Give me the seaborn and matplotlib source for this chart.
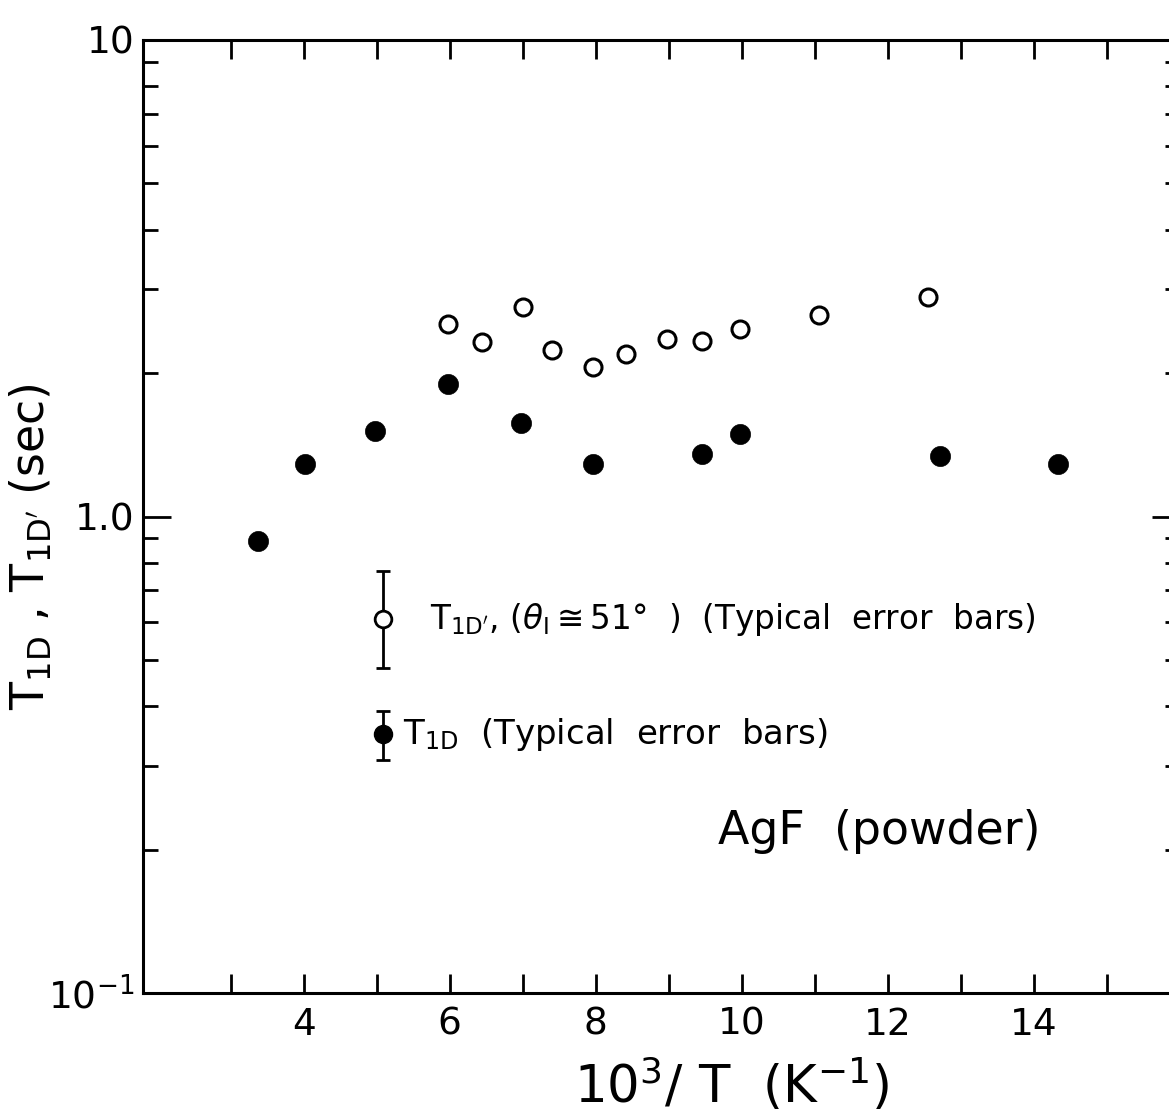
import numpy as np
import pandas as pd
import matplotlib
matplotlib.use("Agg")
import matplotlib.pyplot as plt
import matplotlib.ticker as mticker
import seaborn as sns

# --- data ---
inv_t_filled = [3.38, 4.02, 4.98, 5.98, 6.97, 7.96, 9.46, 9.98, 12.71, 14.33]
t1d = [0.89, 1.29, 1.51, 1.90, 1.57, 1.29, 1.35, 1.49, 1.34, 1.29]

inv_t_open = [5.98, 6.44, 7.00, 7.40, 7.96, 8.41, 8.98, 9.46, 9.98, 11.06, 12.55]
t1d_prime = [2.53, 2.32, 2.75, 2.24, 2.06, 2.19, 2.36, 2.33, 2.48, 2.65, 2.89]

# typical error bars drawn in the key
key_x = [5.09, 5.09]
key_y = [0.608, 0.349]
key_lo = [0.482, 0.309]
key_hi = [0.767, 0.390]

ytick_vals = [0.1, 1.0, 10]
ytick_text = [r"$10^{-1}$", "1.0", "10"]
xtick_vals = [4, 6, 8, 10, 12, 14]

df_filled = pd.DataFrame({"x": inv_t_filled, "y": t1d})
df_open = pd.DataFrame({"x": inv_t_open, "y": t1d_prime})

# --- style ---
sns.set_style("ticks")
plt.rcParams["font.family"] = ["DejaVu Sans"]
plt.rcParams["mathtext.fontset"] = "dejavusans"
plt.rcParams["text.color"] = "black"
plt.rcParams["axes.labelcolor"] = "black"
plt.rcParams["xtick.color"] = "black"
plt.rcParams["ytick.color"] = "black"

fig = plt.figure(figsize=(11.69, 11.14), dpi=100)
ax = fig.add_axes([143 / 1169, 121 / 1114, (1180 - 143) / 1169, (993 - 40) / 1114])

sns.scatterplot(data=df_filled, x="x", y="y", ax=ax, s=210, color="black",
                edgecolor="black", linewidth=0.5, zorder=3)
sns.scatterplot(data=df_open, x="x", y="y", ax=ax, s=150, color="white",
                edgecolor="black", linewidth=2.2, zorder=3)

# key markers with typical error bars
ax.errorbar(key_x[:1], key_y[:1],
            yerr=[[key_y[0] - key_lo[0]], [key_hi[0] - key_y[0]]], fmt="o",
            ms=12, mfc="white", mec="black", mew=2, ecolor="black",
            elinewidth=2, capsize=5, capthick=2, zorder=3)
ax.errorbar(key_x[1:], key_y[1:],
            yerr=[[key_y[1] - key_lo[1]], [key_hi[1] - key_y[1]]], fmt="o",
            ms=13, mfc="black", mec="black", ecolor="black",
            elinewidth=2, capsize=5, capthick=2, zorder=3)

ax.text(5.73, key_y[0],
        r"$\mathrm{T_{1D^{\prime}}}$, ($\theta_{\mathrm{I}}\cong$51°  )  (Typical  error  bars)",
        fontsize=23.5, va="center", ha="left")
ax.text(5.36, key_y[1], r"$\mathrm{T_{1D}}$  (Typical  error  bars)",
        fontsize=24.5, va="center", ha="left")
ax.text(9.67, 0.218, "AgF  (powder)", fontsize=33, va="center", ha="left")

# --- axes ---
ax.set_yscale("log")
ax.set_ylim(0.1, 10)
ax.set_xlim(1.8, 16)

ax.set_xticks(xtick_vals)
ax.set_xticklabels([str(v) for v in xtick_vals])
ax.xaxis.set_minor_locator(mticker.FixedLocator([3, 5, 7, 9, 11, 13, 15]))
ax.set_yticks(ytick_vals)
ax.set_yticklabels(ytick_text)
ax.yaxis.set_minor_locator(mticker.LogLocator(base=10, subs=np.arange(2, 10)))
ax.yaxis.set_minor_formatter(mticker.NullFormatter())

ax.tick_params(axis="x", which="both", direction="in", length=14, width=2,
               top=True, bottom=True, labelsize=27, pad=10)
ax.tick_params(axis="y", which="major", direction="in", length=20, width=2,
               left=True, right=True, labelsize=27, pad=6)
ax.tick_params(axis="y", which="minor", direction="in", length=11, width=2,
               left=True, right=True)

for side in ["left", "bottom", "top", "right"]:
    ax.spines[side].set_visible(True)
    ax.spines[side].set_linewidth(2.2)
    ax.spines[side].set_color("black")

ax.set_xlabel(r"$10^3/\ \mathrm{T}\ \ (\mathrm{K}^{-1})$", fontsize=37)
ax.xaxis.set_label_coords(0.568, -0.066)
ax.set_ylabel(r"$\mathrm{T_{1D}}$ , $\mathrm{T_{1D^{\prime}}}$ (sec)", fontsize=33)
ax.yaxis.set_label_coords(-0.085, 0.468)

fig.savefig("out.png", dpi=100)
